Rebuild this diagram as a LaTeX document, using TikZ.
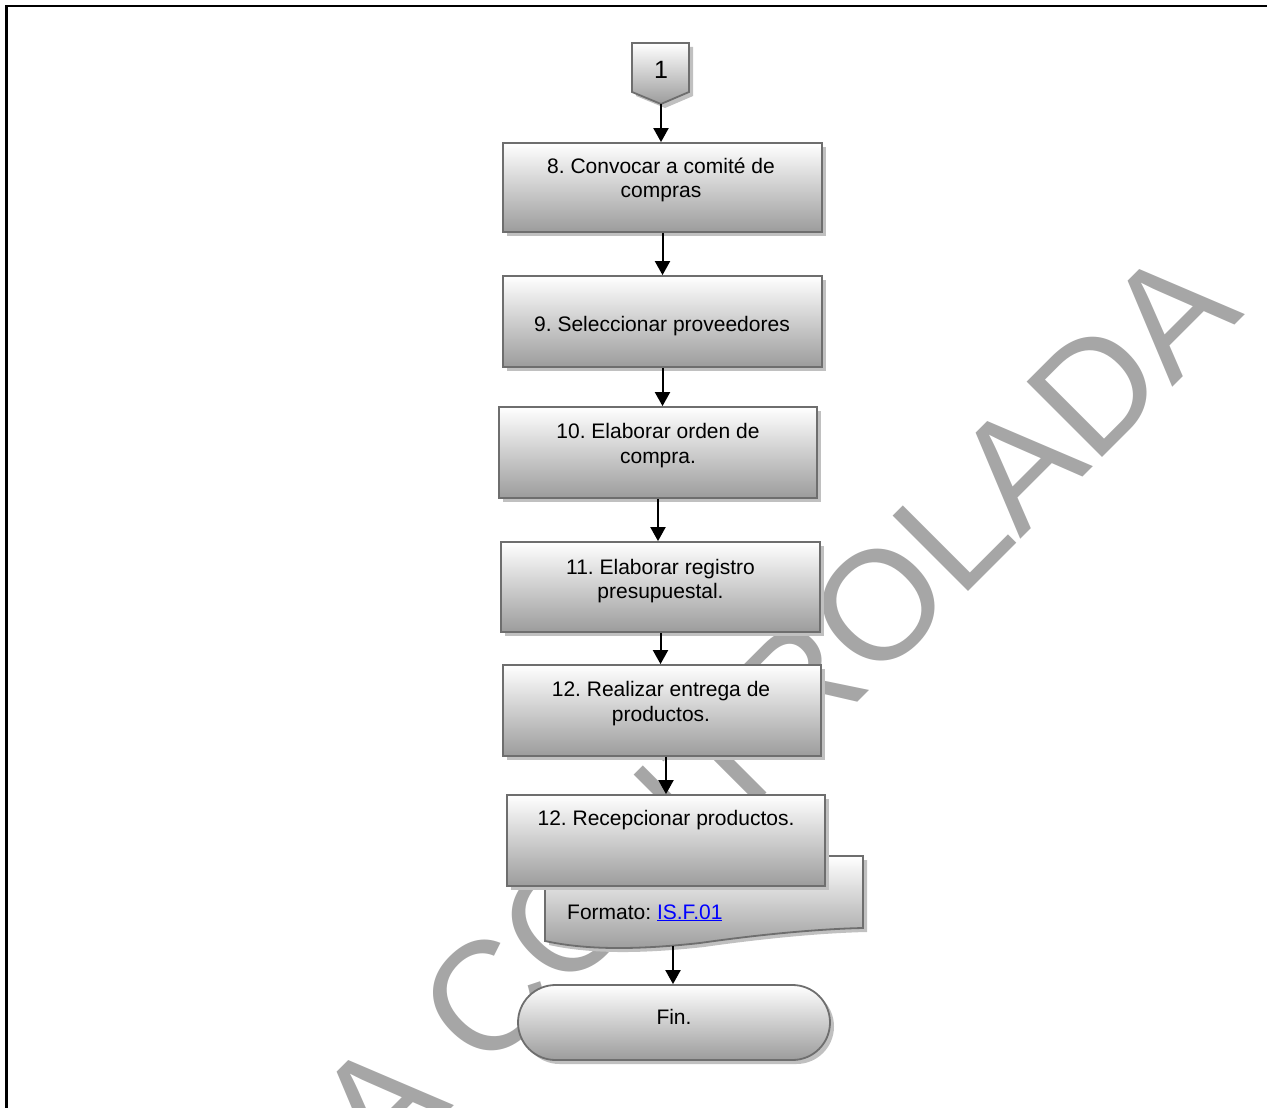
\documentclass[tikz,border=0pt]{standalone}
\usepackage{fontspec}
\setmainfont{Liberation Sans}
\frenchspacing
\usetikzlibrary{shadows,shapes.misc,arrows.meta,calc}
\definecolor{wm}{RGB}{166,166,166}
\definecolor{bord}{RGB}{110,110,110}
\definecolor{bot}{RGB}{156,156,156}
\definecolor{shd}{RGB}{192,192,192}
\definecolor{linkblue}{RGB}{0,0,255}
\begin{document}
\begin{tikzpicture}[x=1pt,y=-1pt,
  boxshadow/.style={drop shadow={shadow xshift=4pt,shadow yshift=-4pt,fill=shd,opacity=1}},
  proc/.style={draw=bord,line width=1.8pt,top color=white,bottom color=bot,inner sep=0pt,boxshadow},
  txt/.style={font=\fontsize{21}{24.5}\selectfont,align=center,inner sep=0pt},
  arr/.style={-{Triangle[width=15pt,length=14pt]},line width=2pt,black},
  wmark/.style={font=\fontsize{155}{155}\selectfont,text=wm,inner sep=0pt}]
\useasboundingbox (0,0) rectangle (1267,1108);
% watermark
\begin{scope}
\clip (0,0) rectangle (1267,1108);
\node[wmark,rotate=45,anchor=base east] (wmk) at (1246,314) {A CONTROLADA};
\end{scope}
% frame
\draw[line width=2.5pt] (6.5,1108) -- (6.5,6) -- (1267,6);
% off-page connector
\fill[shd] (636,47) -- (693,47) -- (693,96) -- (665,108) -- (636,96) -- cycle;
\path[draw=bord,line width=1.8pt,top color=white,bottom color=bot]
  (632,43) -- (689,43) -- (689,92) -- (661,104) -- (632,92) -- cycle;
\coordinate (p1tip) at (661,104);
\node[font=\fontsize{25}{25}\selectfont,inner sep=0pt,anchor=base] (p1) at (661,78) {1};
% process boxes
\node[proc,minimum width=319pt,minimum height=89pt] (b8) at (662.5,187.5) {};
\node[txt] (t8) at (661,180) {8. Convocar a comité de\\compras};
\node[proc,minimum width=319pt,minimum height=91pt] (b9) at (662.5,321.5) {};
\node[txt,anchor=base] (t9) at (662,331.5) {9. Seleccionar proveedores};
\node[proc,minimum width=318pt,minimum height=91pt] (b10) at (658,452.5) {};
\node[txt] (t10) at (658,445.5) {10. Elaborar orden de\\compra.};
\node[proc,minimum width=319pt,minimum height=90pt] (b11) at (660.5,587) {};
\node[txt] (t11) at (660.5,581) {11. Elaborar registro\\presupuestal.};
\node[proc,minimum width=318pt,minimum height=91pt] (b12a) at (662,710.5) {};
\node[txt] (t12a) at (661,703.5) {12. Realizar entrega de\\productos.};
% document shape
\fill[shd] (549,860) -- (867,860) -- (867,932)
   .. controls (820,933) and (760,939) .. (704,947)
   .. controls (640,954) and (590,954) .. (549,945) -- cycle;
\path[draw=bord,line width=1.8pt,top color=white,bottom color=bot]
   (545,856) -- (863,856) -- (863,928)
   .. controls (816,929) and (756,935) .. (700,943)
   .. controls (636,950) and (586,950) .. (545,941) -- cycle;
\coordinate (docb) at (673,946);
\node[txt,anchor=base west] (tdoc) at (567,919) {Formato: \textcolor{linkblue}{\underline{IS.F.01}}};
\node[proc,minimum width=318pt,minimum height=91pt] (b12b) at (666,840.5) {};
\node[txt,anchor=base] (t12b) at (666,825.5) {12. Recepcionar productos.};
% terminal
\node[proc,rounded rectangle,minimum width=312pt,minimum height=75pt] (fin) at (674,1022.5) {};
\node[txt,anchor=base] (tfin) at (674,1024) {Fin.};
% connectors
\draw[arr] (p1tip) -- (p1tip |- b8.north);
\draw[arr] (b8.south) -- (b8.south |- b9.north);
\draw[arr] (b9.south) -- (b9.south |- b10.north);
\draw[arr] (b10.south) -- (b10.south |- b11.north);
\draw[arr] (b11.south) -- (b11.south |- b12a.north);
\draw[arr] (b12a.south -| b12b.north) -- (b12b.north);
\draw[arr] (docb) -- (docb |- fin.north);
\end{tikzpicture}
\end{document}
